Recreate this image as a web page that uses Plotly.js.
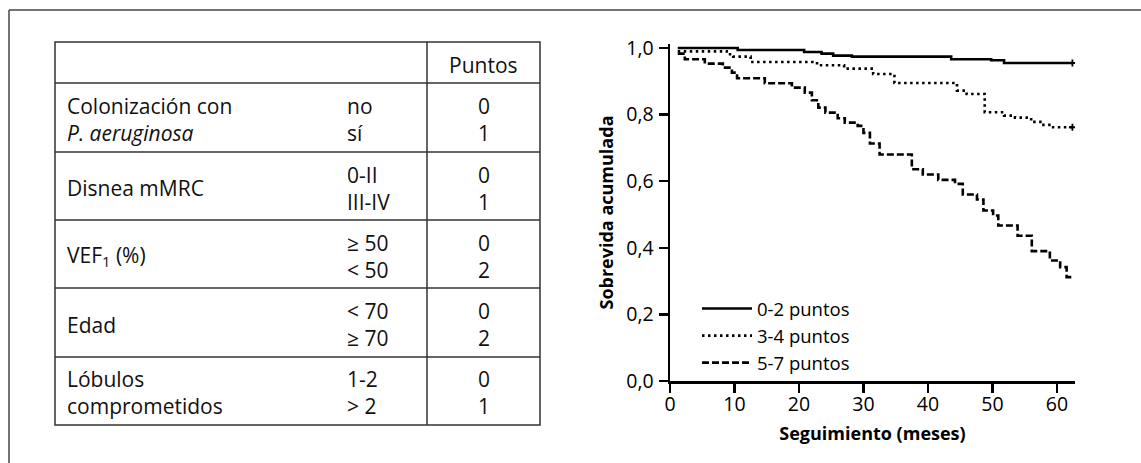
<!DOCTYPE html>
<html>
<head>
<meta charset="utf-8">
<script src="https://cdn.plot.ly/plotly-3.0.1.min.js"></script>
<style>html,body{margin:0;padding:0;background:#fff;}#chart{width:1141px;height:463px;}</style>
</head>
<body>
<div id="chart"></div>
<script>
// ---- Table data ----
const tableHeader = "Puntos";
const tableVariables = ["Colonización con<br><i>P. aeruginosa</i>", "Disnea mMRC", "VEF<sub>1</sub> (%)", "Edad", "Lóbulos<br>comprometidos"];
const tableLevels = [["no", "sí"], ["0-II", "III-IV"], ["≥ 50", "&lt; 50"], ["&lt; 70", "≥ 70"], ["1-2", "&gt; 2"]];
const tablePoints = [[0, 1], [0, 1], [0, 2], [0, 2], [0, 1]];

// ---- Survival curves (months, cumulative survival) ----
const seriesNames = ["0-2 puntos", "3-4 puntos", "5-7 puntos"];
const months02 = [1.2, 10.5, 20.8, 23.5, 25.3, 28.2, 43.6, 49.8, 51.8, 62.4];
const surv02   = [1.0, 0.994, 0.988, 0.983, 0.977, 0.974, 0.966, 0.963, 0.955, 0.955];
const months34 = [1.2, 8.8, 9.8, 12.5, 22.8, 27.0, 31.5, 34.8, 44.5, 46.0, 48.8, 51.8, 53.5, 56.0, 57.7, 59.2, 62.4];
const surv34   = [0.990, 0.981, 0.974, 0.958, 0.948, 0.938, 0.922, 0.895, 0.872, 0.862, 0.807, 0.797, 0.791, 0.778, 0.769, 0.762, 0.762];
const months57 = [1.2, 2.3, 5.4, 8.2, 9.6, 10.4, 14.7, 18.9, 20.9, 22.0, 23.0, 24.1, 26.0, 27.1, 29.1, 30.0, 31.0, 32.5, 37.5, 39.2, 41.6, 44.2, 45.4, 47.6, 48.6, 50.1, 50.9, 53.9, 56.1, 58.9, 60.5, 61.5, 62.4];
const surv57   = [0.983, 0.966, 0.953, 0.941, 0.926, 0.909, 0.894, 0.881, 0.866, 0.843, 0.821, 0.806, 0.789, 0.776, 0.766, 0.745, 0.713, 0.680, 0.636, 0.620, 0.604, 0.592, 0.560, 0.545, 0.512, 0.497, 0.467, 0.436, 0.390, 0.362, 0.342, 0.312, 0.312];

// ---- geometry helpers (pixel -> paper) ----
const W = 1141, H = 463;
const M = {l: 670, r: 66, t: 44, b: 82};
const PW = W - M.l - M.r, PH = H - M.t - M.b;
const X = px => (px - M.l) / PW;
const Y = py => (H - M.b - py) / PH;

const FONT = "Open Sans, Noto Sans, sans-serif";
const black = "#000";

const traces = [
  {x: months02, y: surv02, name: seriesNames[0], mode: "lines", line: {shape: "hv", color: black, width: 2.6, dash: "solid"}},
  {x: months34, y: surv34, name: seriesNames[1], mode: "lines", line: {shape: "hv", color: black, width: 2.6, dash: "2.5px,3.5px"}},
  {x: months57, y: surv57, name: seriesNames[2], mode: "lines", line: {shape: "hv", color: black, width: 2.6, dash: "7px,3px"}},
  {x: [months02[months02.length - 1], months34[months34.length - 1]],
   y: [surv02[surv02.length - 1], surv34[surv34.length - 1]],
   mode: "markers", showlegend: false, hoverinfo: "skip",
   marker: {symbol: "cross-thin", size: 5, color: black, line: {color: black, width: 1.8}}}
];

// ---- table drawing ----
const tL = 55, tR = 540, tT = 42, tB = 425, colDiv = 427;
const rowLines = [83, 152, 220, 288, 357];
const lineStyle = {color: "#333", width: 1.5};
const shapes = [];
shapes.push({type: "rect", xref: "paper", yref: "paper", x0: X(tL), x1: X(tR), y0: Y(tT), y1: Y(tB), line: lineStyle});
shapes.push({type: "line", xref: "paper", yref: "paper", x0: X(colDiv), x1: X(colDiv), y0: Y(tT), y1: Y(tB), line: lineStyle});
rowLines.forEach(r => shapes.push({type: "line", xref: "paper", yref: "paper", x0: X(tL), x1: X(tR), y0: Y(r), y1: Y(r), line: lineStyle}));
// outer frame
shapes.push({type: "line", xref: "paper", yref: "paper", x0: X(9), x1: X(9), y0: Y(10), y1: Y(470), line: {color: "#444", width: 1.5}});
shapes.push({type: "line", xref: "paper", yref: "paper", x0: X(9), x1: X(1150), y0: Y(10), y1: Y(10), line: {color: "#444", width: 1.5}});

const tFont = {family: FONT, size: 21, color: "#111"};
const annotations = [];
annotations.push({xref: "paper", yref: "paper", x: X((colDiv + tR) / 2), y: Y((tT + rowLines[0]) / 2 + 2), text: tableHeader, showarrow: false, xanchor: "center", yanchor: "middle", font: tFont});
const bounds = rowLines.concat([tB]);
tableVariables.forEach((v, i) => {
  const cy = (bounds[i] + bounds[i + 1]) / 2 + 2;
  annotations.push({xref: "paper", yref: "paper", x: X(65), y: Y(cy), text: v, showarrow: false, xanchor: "left", yanchor: "middle", align: "left", font: tFont});
  annotations.push({xref: "paper", yref: "paper", x: X(345), y: Y(cy), text: tableLevels[i].join("<br>"), showarrow: false, xanchor: "left", yanchor: "middle", align: "left", font: tFont});
  annotations.push({xref: "paper", yref: "paper", x: X((colDiv + tR) / 2), y: Y(cy), text: tablePoints[i].join("<br>"), showarrow: false, xanchor: "center", yanchor: "middle", align: "center", font: tFont});
});

const layout = {
  width: W, height: H,
  margin: M,
  paper_bgcolor: "#fff", plot_bgcolor: "#fff",
  separators: ", ",
  font: {family: FONT, size: 19, color: black},
  showlegend: true,
  legend: {x: X(697), y: Y(290), xanchor: "left", yanchor: "top", bgcolor: "rgba(0,0,0,0)", font: {family: FONT, size: 18.5, color: black}, itemwidth: 50, tracegroupgap: 0},
  xaxis: {
    range: [0, 62.8], tick0: 0, dtick: 10, showgrid: false, zeroline: false,
    showline: true, linecolor: black, linewidth: 2.5,
    ticks: "outside", ticklen: 9, tickwidth: 2.5, tickcolor: black,
    ticklabelstandoff: -5,
    tickfont: {family: FONT, size: 19.5, color: black},
    title: {text: "Seguimiento (meses)", font: {family: FONT, size: 18, color: black, weight: 700}, standoff: 12}
  },
  yaxis: {
    range: [0, 1.012], tick0: 0, dtick: 0.2, tickformat: ".1f", showgrid: false, zeroline: false,
    showline: true, linecolor: black, linewidth: 2.5,
    ticks: "outside", ticklen: 9, tickwidth: 2.5, tickcolor: black,
    ticklabelstandoff: 1,
    tickfont: {family: FONT, size: 19.5, color: black},
    title: {text: "Sobrevida acumulada", font: {family: FONT, size: 18, color: black, weight: 700}, standoff: 8}
  },
  shapes: shapes,
  annotations: annotations
};

Plotly.newPlot("chart", traces, layout, {staticPlot: true, displayModeBar: false});
</script>
</body>
</html>
